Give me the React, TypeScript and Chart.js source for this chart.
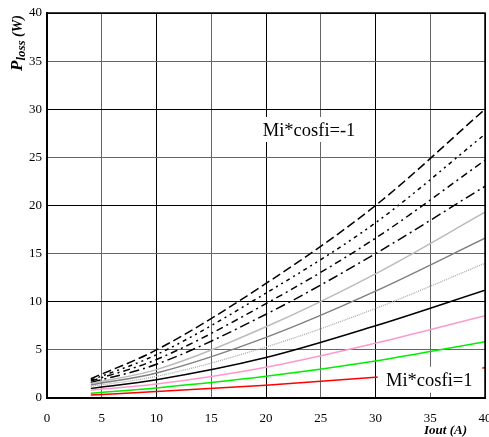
import React, { useEffect, useRef } from "react";
import { Chart, registerables } from "chart.js";

Chart.register(...registerables);

const currents = [4, 10, 20, 30, 40];
const xTicks = [0, 5, 10, 15, 20, 25, 30, 35, 40];
const yTicks = [0, 5, 10, 15, 20, 25, 30, 35, 40];

const seriesRed = [0.3, 0.68, 1.32, 2.15, 3.15];
const seriesGreen = [0.5, 1.05, 2.25, 3.85, 5.85];
const seriesPink = [0.8, 1.45, 3.2, 5.7, 8.55];
const seriesBlack = [1.0, 1.9, 4.2, 7.5, 11.2];
const seriesDotted = [1.2, 2.25, 5.3, 9.3, 14.0];
const seriesGray = [1.35, 2.6, 6.3, 11.1, 16.6];
const seriesLightGray = [1.5, 2.95, 7.4, 12.9, 19.3];
const seriesDashDot1 = [1.6, 3.5, 8.7, 15.0, 22.0];
const seriesDashDot2 = [1.75, 4.0, 9.8, 16.6, 24.7];
const seriesDashDotDot = [1.85, 4.5, 10.9, 18.2, 27.4];
const seriesDash = [2.0, 5.0, 11.9, 20.0, 30.0];

const labelTop = "Mi*cosfi=-1";
const labelBottom = "Mi*cosfi=1";

const SERIF = '"Liberation Serif", "Times New Roman", serif';

function pts(vals: number[]) {
  return currents.map((x, i) => ({ x, y: vals[i] }));
}

export default function App() {
  const ref = useRef<HTMLCanvasElement>(null);
  useEffect(() => {
    if (!ref.current) return;
    const mk = (vals: number[], color: string, dash: number[] = [], width = 1.5) => ({
      data: pts(vals),
      borderColor: color,
      backgroundColor: color,
      borderWidth: width,
      borderDash: dash,
      pointRadius: 0,
      cubicInterpolationMode: "monotone" as const,
      fill: false,
    });
    const annot = {
      id: "annot",
      afterDatasetsDraw(chart: any) {
        const { ctx, scales, chartArea } = chart;
        const xs = scales.x, ys = scales.y;
        ctx.save();
        // top & right frame
        ctx.strokeStyle = "#000";
        ctx.lineWidth = 1.5;
        ctx.beginPath();
        ctx.moveTo(chartArea.left, chartArea.top);
        ctx.lineTo(chartArea.right, chartArea.top);
        ctx.lineTo(chartArea.right, chartArea.bottom);
        ctx.stroke();
        // white boxes behind labels
        const box = (x0: number, x1: number, y0: number, y1: number) => {
          const px0 = xs.getPixelForValue(x0);
          const px1 = xs.getPixelForValue(x1);
          const py0 = ys.getPixelForValue(y0);
          const py1 = ys.getPixelForValue(y1);
          ctx.fillStyle = "#fff";
          ctx.fillRect(px0, py0, px1 - px0, py1 - py0);
        };
        box(30.2, 39.75, 3.25, 0.55);
        box(19.3, 28.8, 29.2, 26.6);
        ctx.fillStyle = "#000";
        ctx.font = `18.5px ${SERIF}`;
        ctx.textBaseline = "middle";
        ctx.textAlign = "left";
        ctx.fillText(labelBottom, xs.getPixelForValue(30.96), ys.getPixelForValue(1.72));
        ctx.fillText(labelTop, xs.getPixelForValue(19.7), ys.getPixelForValue(27.7));
        // x title
        ctx.font = `bold italic 13px ${SERIF}`;
        ctx.textAlign = "right";
        ctx.textBaseline = "alphabetic";
        ctx.fillText("Iout (A)", 467, 434);
        // y title rotated
        ctx.translate(22, 71);
        ctx.rotate(-Math.PI / 2);
        ctx.textAlign = "left";
        let x = 0;
        ctx.font = `bold italic 17px ${SERIF}`;
        ctx.fillText("P", x, 0);
        x += ctx.measureText("P").width;
        ctx.font = `bold italic 13px ${SERIF}`;
        ctx.fillText("loss", x, 3);
        x += ctx.measureText("loss").width;
        ctx.font = `bold italic 14px ${SERIF}`;
        ctx.fillText(" (W)", x, 0);
        ctx.restore();
      },
    };
    const gridColor = (c: any) => (c.tick && c.tick.value % 10 === 0 ? "#000" : "#666");
    const chart = new Chart(ref.current, {
      type: "line",
      data: {
        datasets: [
          mk(seriesRed, "#ff0000"),
          mk(seriesGreen, "#00ee00"),
          mk(seriesPink, "#ff99cc"),
          mk(seriesBlack, "#000000"),
          mk(seriesDotted, "#aaaaaa", [1, 1], 1.3),
          mk(seriesGray, "#808080"),
          mk(seriesLightGray, "#bbbbbb"),
          mk(seriesDashDot1, "#000000", [10, 4, 2, 4]),
          mk(seriesDashDot2, "#000000", [7, 4, 2, 4]),
          mk(seriesDashDotDot, "#000000", [4, 4, 2, 4, 2, 4]),
          mk(seriesDash, "#000000", [9, 4]),
        ] as any,
      },
      options: {
        responsive: false,
        animation: false,
        events: [],
        layout: { padding: { left: 0, top: 13, right: 4, bottom: 0 } },
        plugins: { legend: { display: false }, tooltip: { enabled: false } },
        scales: {
          x: {
            type: "linear",
            min: 0,
            max: 40,
            afterBuildTicks: (s: any) => {
              s.ticks = xTicks.map((v) => ({ value: v }));
            },
            afterFit: (s: any) => {
              s.height = 39;
              s.paddingLeft = 0;
              s.paddingRight = 0;
            },
            grid: { color: gridColor, lineWidth: 1, drawTicks: false },
            border: { color: "#000", width: 2 },
            ticks: { color: "#000", font: { family: SERIF, size: 13 }, padding: 13, maxRotation: 0 },
          },
          y: {
            type: "linear",
            min: 0,
            max: 40,
            afterBuildTicks: (s: any) => {
              s.ticks = yTicks.map((v) => ({ value: v }));
            },
            afterFit: (s: any) => {
              s.width = 47;
              s.paddingTop = 0;
              s.paddingBottom = 0;
            },
            grid: { color: gridColor, lineWidth: 1, drawTicks: false },
            border: { color: "#000", width: 2 },
            ticks: { color: "#000", font: { family: SERIF, size: 13 }, padding: 5 },
          },
        } as any,
      },
      plugins: [annot],
    });
    return () => chart.destroy();
  }, []);
  return (
    <div style={{ position: "absolute", left: 0, top: 0, width: 489, height: 437, background: "#fff" }}>
      <canvas ref={ref} width={489} height={437} style={{ display: "block" }} />
    </div>
  );
}
